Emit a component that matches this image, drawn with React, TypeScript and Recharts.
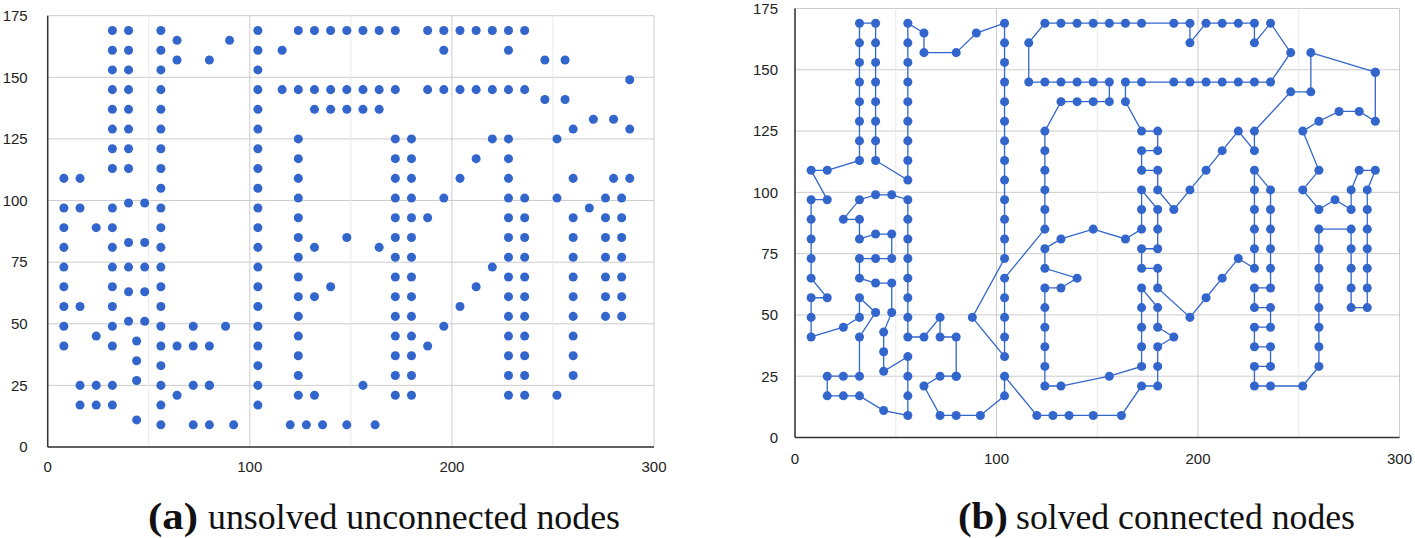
import React from 'react';
import { ScatterChart, Scatter, XAxis, YAxis, CartesianGrid, ReferenceLine } from 'recharts';

// a280 node coordinates, listed in the order of the solved tour
const nodeX = [
  288, 288, 280, 270, 260, 252, 260, 252, 260, 268,
  276, 276, 280, 288, 284, 284, 284, 284, 284, 284,
  284, 276, 276, 276, 276, 276, 260, 260, 260, 260,
  260, 260, 260, 260, 252, 236, 228, 228, 236, 236,
  228, 228, 236, 236, 228, 228, 236, 236, 236, 236,
  236, 236, 228, 228, 228, 228, 228, 228, 220, 212,
  204, 196, 180, 180, 172, 172, 180, 180, 180, 172,
  172, 172, 164, 148, 132, 124, 124, 140, 132, 124,
  124, 124, 124, 124, 124, 132, 156, 172, 172, 172,
  172, 172, 180, 180, 188, 180, 180, 180, 172, 162,
  148, 136, 128, 120, 104, 104, 92, 80, 72, 64,
  72, 80, 80, 80, 72, 72, 64, 56, 56, 56,
  56, 56, 56, 56, 56, 48, 40, 32, 24, 32,
  32, 40, 48, 48, 40, 32, 32, 40, 48, 48,
  44, 44, 44, 56, 56, 56, 56, 44, 32, 24,
  16, 16, 24, 32, 32, 40, 32, 32, 24, 8,
  8, 8, 16, 8, 8, 8, 8, 8, 16, 8,
  16, 32, 32, 32, 32, 32, 32, 32, 32, 40,
  40, 40, 40, 40, 40, 40, 40, 56, 56, 56,
  56, 56, 56, 56, 56, 56, 64, 64, 80, 90,
  104, 104, 104, 104, 104, 104, 104, 104, 104, 104,
  104, 104, 104, 88, 104, 104, 104, 104, 104, 124,
  124, 124, 124, 124, 124, 132, 140, 148, 156, 156,
  148, 140, 132, 124, 116, 116, 124, 132, 140, 148,
  156, 164, 172, 188, 196, 196, 204, 212, 220, 228,
  228, 236, 246, 236, 228, 220, 212, 204, 196, 188,
  172, 164, 164, 172, 180, 180, 172, 172, 180, 180,
  188, 196, 204, 212, 220, 228, 228, 246, 256, 256,
];
const nodeY = [
  149, 129, 133, 133, 129, 125, 109, 101, 93, 97,
  93, 101, 109, 109, 101, 93, 85, 77, 69, 61,
  53, 53, 61, 69, 77, 85, 85, 77, 69, 61,
  53, 45, 37, 29, 21, 21, 21, 29, 29, 37,
  37, 45, 45, 53, 53, 61, 61, 69, 77, 85,
  93, 101, 109, 101, 93, 85, 77, 69, 73, 65,
  57, 49, 61, 69, 69, 77, 77, 85, 93, 101,
  93, 85, 81, 85, 81, 77, 69, 65, 61, 61,
  53, 45, 37, 29, 21, 21, 25, 29, 37, 45,
  53, 61, 53, 45, 41, 37, 29, 21, 21, 9,
  9, 9, 9, 9, 25, 17, 9, 9, 9, 21,
  25, 25, 25, 41, 41, 49, 41, 41, 49, 57,
  65, 73, 81, 89, 97, 99, 99, 97, 89, 89,
  81, 83, 83, 73, 73, 73, 65, 63, 63, 51,
  43, 35, 27, 33, 25, 17, 9, 11, 17, 17,
  17, 25, 25, 25, 41, 51, 57, 49, 45, 41,
  49, 57, 57, 65, 73, 81, 89, 97, 97, 109,
  109, 113, 121, 129, 137, 145, 153, 161, 169, 169,
  161, 153, 145, 137, 129, 121, 113, 105, 113, 121,
  129, 137, 145, 153, 161, 169, 165, 157, 157, 165,
  169, 161, 153, 145, 137, 129, 121, 113, 105, 97,
  89, 81, 73, 49, 33, 41, 49, 57, 65, 85,
  93, 101, 109, 117, 125, 137, 137, 137, 137, 145,
  145, 145, 145, 145, 145, 161, 169, 169, 169, 169,
  169, 169, 169, 169, 169, 161, 169, 169, 169, 169,
  161, 169, 157, 145, 145, 145, 145, 145, 145, 145,
  145, 145, 137, 125, 125, 117, 117, 109, 109, 101,
  93, 101, 109, 117, 125, 117, 125, 141, 141, 157,
];

const xTicks = [0, 100, 200, 300];
const minorXLines = [50, 150, 250];
const yTicks = [0, 25, 50, 75, 100, 125, 150, 175];
const captionTags = ['(a)', '(b)'];
const captionTexts = ['unsolved unconnected nodes', 'solved connected nodes'];

const points = nodeX.map((x, i) => ({ x, y: nodeY[i] }));
const closedTour = [...points, points[0]];

const BLUE = '#3366cc';
const tickStyle = { fontSize: 15, fill: '#222', fontFamily: 'Liberation Sans, Arial, sans-serif' };

type PanelProps = {
  left: number;
  width: number;
  height: number;
  margin: { top: number; right: number; bottom: number; left: number };
  yAxisWidth: number;
  yTickMargin: number;
  xTickMargin: number;
  connected: boolean;
};

function Panel(p: PanelProps) {
  return (
    <div style={{ position: 'absolute', left: p.left, top: 0 }}>
      <ScatterChart width={p.width} height={p.height} margin={p.margin}>
        <CartesianGrid stroke="#cccccc" />
        {minorXLines.map((v) => (
          <ReferenceLine key={v} x={v} stroke="#e8e8e8" strokeWidth={1} />
        ))}
        <XAxis
          type="number"
          dataKey="x"
          domain={[0, 300]}
          ticks={xTicks}
          tickLine={false}
          axisLine={{ stroke: '#333', strokeWidth: 1.5 }}
          tick={tickStyle}
          tickMargin={p.xTickMargin}
          height={40}
          interval={0}
        />
        <YAxis
          type="number"
          dataKey="y"
          domain={[0, 175]}
          ticks={yTicks}
          tickLine={false}
          axisLine={{ stroke: '#333', strokeWidth: 1.5 }}
          tick={tickStyle}
          tickMargin={p.yTickMargin}
          width={p.yAxisWidth}
          interval={0}
        />
        {p.connected ? (
          <Scatter
            data={closedTour}
            fill={BLUE}
            line={{ stroke: BLUE, strokeWidth: 1.3 }}
            lineType="joint"
            isAnimationActive={false}
          />
        ) : (
          <Scatter data={points} fill={BLUE} isAnimationActive={false} />
        )}
      </ScatterChart>
    </div>
  );
}

export default function App() {
  return (
    <div style={{ position: 'absolute', left: 0, top: 0, width: 1415, height: 538, background: '#fff', overflow: 'hidden' }}>
      <Panel
        left={0}
        width={700}
        height={487}
        margin={{ top: 15.7, right: 46, bottom: 0, left: 0 }}
        yAxisWidth={47.7}
        yTickMargin={14}
        xTickMargin={8}
        connected={false}
      />
      <Panel
        left={700}
        width={715}
        height={477.5}
        margin={{ top: 8.5, right: 15.5, bottom: 0, left: 0 }}
        yAxisWidth={95}
        yTickMargin={11}
        xTickMargin={10}
        connected={true}
      />
      <svg width={1415} height={538} style={{ position: 'absolute', left: 0, top: 0, pointerEvents: 'none' }}>
        <g fontFamily="Liberation Serif, Times New Roman, serif" fill="#111">
          <text x={148} y={529} fontSize={38} fontWeight="bold" textLength={50} lengthAdjust="spacingAndGlyphs">{captionTags[0]}</text>
          <text x={208} y={529} fontSize={35} textLength={412} lengthAdjust="spacingAndGlyphs">{captionTexts[0]}</text>
          <text x={958} y={529} fontSize={38} fontWeight="bold" textLength={50} lengthAdjust="spacingAndGlyphs">{captionTags[1]}</text>
          <text x={1016} y={529} fontSize={35} textLength={339} lengthAdjust="spacingAndGlyphs">{captionTexts[1]}</text>
        </g>
      </svg>
    </div>
  );
}
